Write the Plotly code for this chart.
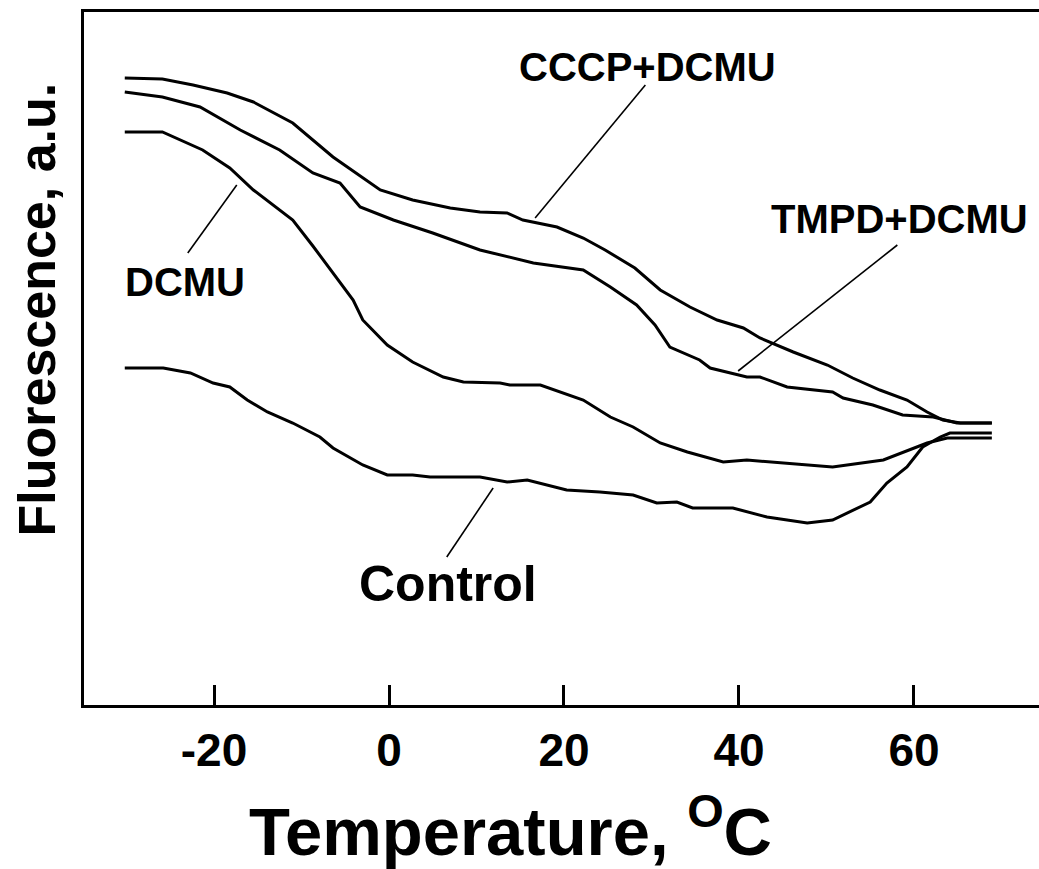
import plotly.graph_objects as go

# ---- data (temperature in degC, fluorescence in arbitrary units) ----
cccp_t = [-30.2, -25.9, -22.4, -18.5, -15.5, -11.0, -6.4, -1.0, 2.7, 7.0, 10.4, 13.5, 15.3, 19.2,
          22.2, 24.7, 28.1, 31.0, 34.4, 37.5, 40.5, 42.4, 46.2, 50.1, 53.0, 56.1, 59.2, 61.5, 63.3, 65.3, 68.9]
cccp_f = [62.7, 62.6, 62.0, 61.2, 60.3, 58.2, 54.8, 51.5, 50.5, 49.7, 49.3, 49.2, 48.5, 47.8,
          46.7, 45.5, 43.7, 41.5, 39.8, 38.5, 37.7, 36.7, 35.3, 34.0, 32.7, 31.5, 30.5, 29.3, 28.5, 28.2, 28.2]

tmpd_t = [-30.2, -25.9, -21.6, -17.0, -12.5, -8.7, -5.6, -3.3, 0.5, 5.0, 10.4, 16.5, 22.2, 25.3,
          28.3, 30.4, 32.1, 35.5, 36.7, 40.9, 42.4, 45.5, 50.7, 51.9, 55.3, 58.7, 62.2, 64.9, 68.9]
tmpd_f = [61.3, 60.8, 59.8, 57.5, 55.5, 53.2, 52.2, 49.8, 48.5, 47.2, 45.5, 44.2, 43.5, 41.8,
          40.0, 38.0, 35.8, 34.5, 33.7, 32.8, 32.8, 31.8, 31.3, 30.7, 30.0, 29.0, 28.8, 28.2, 28.2]

dcmu_t = [-30.2, -25.9, -21.3, -18.2, -15.5, -11.0, -8.7, -6.4, -4.1, -3.0, -0.2, 2.7, 6.2, 8.5,
          12.7, 13.8, 17.3, 22.2, 25.3, 27.9, 31.0, 34.1, 38.2, 40.9, 45.0, 50.7, 56.5, 59.5, 61.5, 63.8, 68.9]
dcmu_f = [57.3, 57.3, 55.5, 53.7, 51.5, 48.5, 45.9, 43.2, 40.5, 38.5, 36.0, 34.3, 32.8, 32.3,
          32.2, 32.0, 32.0, 30.5, 28.8, 27.8, 26.2, 25.3, 24.3, 24.5, 24.2, 23.8, 24.5, 25.5, 26.2, 26.7, 26.7]

ctrl_t = [-30.2, -25.8, -22.7, -20.1, -18.2, -16.2, -13.9, -11.0, -7.9, -6.4, -3.0, -0.2, 2.7, 4.7,
          7.0, 10.4, 13.5, 15.8, 20.3, 24.1, 27.9, 30.6, 32.9, 34.7, 39.3, 43.2, 47.8, 50.7, 55.0,
          56.9, 59.2, 61.0, 63.0, 64.1, 68.9]
ctrl_f = [33.7, 33.7, 33.2, 32.2, 31.8, 30.5, 29.3, 28.2, 26.8, 25.7, 24.0, 23.0, 23.0, 22.8,
          22.8, 22.8, 22.3, 22.5, 21.5, 21.3, 21.0, 20.2, 20.3, 19.7, 19.7, 18.8, 18.2, 18.5, 20.3,
          22.2, 23.8, 25.8, 26.8, 27.2, 27.2]

tick_vals = [-20, 0, 20, 40, 60]
tick_text = ["-20", "0", "20", "40", "60"]

# labels: text, label centre (T, F), pointer start (T, F), pointer end (T, F)
label_text = ["CCCP+DCMU", "TMPD+DCMU", "DCMU", "Control"]
label_x = [29.6, 58.4, -23.3, 6.7]
label_y = [63.8, 48.6, 42.3, 12.1]
label_size = [40, 40, 40, 50]
ptr_x0 = [16.7, 39.9, -17.4, 11.9]
ptr_y0 = [48.7, 33.4, 52.0, 21.7]
ptr_x1 = [29.3, 58.1, -23.0, 6.6]
ptr_y1 = [62.0, 46.0, 45.2, 14.8]

FONT = "Liberation Sans, Arial, Helvetica, sans-serif"

fig = go.Figure()
for t, f in [(cccp_t, cccp_f), (tmpd_t, tmpd_f), (dcmu_t, dcmu_f), (ctrl_t, ctrl_f)]:
    fig.add_trace(go.Scatter(x=t, y=f, mode="lines",
                             line=dict(color="black", width=3),
                             showlegend=False, hoverinfo="skip"))

for i in range(len(label_text)):
    fig.add_shape(type="line", xref="x", yref="y",
                  x0=ptr_x0[i], y0=ptr_y0[i], x1=ptr_x1[i], y1=ptr_y1[i],
                  line=dict(color="black", width=1.6))
    fig.add_annotation(x=label_x[i], y=label_y[i], xref="x", yref="y",
                       text=label_text[i], showarrow=False,
                       xanchor="center", yanchor="middle",
                       font=dict(family=FONT, size=label_size[i], color="black", weight="bold"))

fig.add_annotation(x=0.447, y=-0.176, xref="paper", yref="paper",
                   xanchor="center", yanchor="middle",
                   text="Temperature, <sup>O</sup>C", showarrow=False,
                   font=dict(family=FONT, size=67, color="black", weight="bold"))
fig.add_annotation(x=-0.049, y=0.571, xref="paper", yref="paper",
                   xanchor="center", yanchor="middle",
                   text="Fluorescence, a.u.", showarrow=False, textangle=-90,
                   font=dict(family=FONT, size=52, color="black", weight="bold"))

fig.update_xaxes(range=[-34.86, 74.29], showline=True, linecolor="black", linewidth=3,
                 mirror=True, ticks="inside", ticklen=20, tickwidth=2.5, tickcolor="black",
                 tickvals=tick_vals, ticktext=tick_text, showgrid=False, zeroline=False,
                 tickfont=dict(family=FONT, size=46, color="black", weight="bold"),
                 ticklabelstandoff=3)
fig.update_yaxes(range=[0, 69.3], showline=True, linecolor="black", linewidth=3,
                 mirror=False, ticks="", showticklabels=False, showgrid=False, zeroline=False)

fig.update_layout(width=1039, height=869, margin=dict(l=84, r=0, t=12, b=164),
                  plot_bgcolor="white", paper_bgcolor="white")

fig.write_html("out.html")
